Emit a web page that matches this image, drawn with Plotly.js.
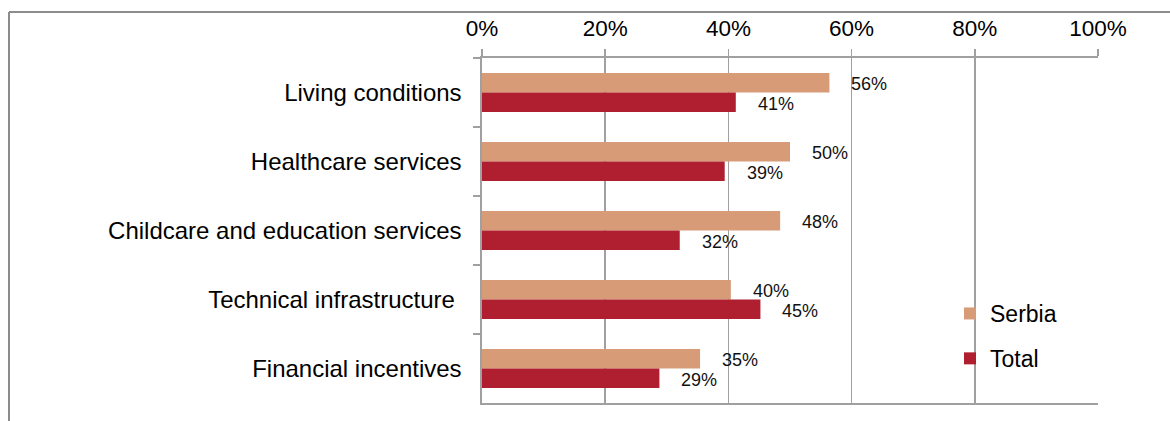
<!DOCTYPE html>
<html>
<head>
<meta charset="utf-8">
<script src="https://cdn.plot.ly/plotly-3.0.1.min.js"></script>
<style>
  html, body { margin: 0; padding: 0; background: #fff; }
  #chart { width: 1170px; height: 421px; }
</style>
</head>
<body>
<div id="chart"></div>
<script>
// ---- data ----
const categories = [
  "Living conditions",
  "Healthcare services",
  "Childcare and education services",
  "Technical infrastructure ",
  "Financial incentives"
];
const serbiaValues = [0.564, 0.50, 0.484, 0.404, 0.354];
const totalValues  = [0.412, 0.394, 0.321, 0.452, 0.288];
const xTickValues = [0, 0.2, 0.4, 0.6, 0.8, 1.0];
const xTickLabels = ["0%", "20%", "40%", "60%", "80%", "100%"];
const seriesNames = ["Serbia", "Total"];

// ---- styles ----
const FONT = "Liberation Sans, Arial, sans-serif";
const serbiaColor = "#D89B78";
const totalColor = "#B01F2F";
const gridColor = "#a0a0a0";

const fmtPct = v => Math.round(v * 100) + "%";

const traces = [
  {
    type: "bar", orientation: "h", name: seriesNames[0],
    y: categories, x: serbiaValues,
    marker: { color: serbiaColor },
    legendgroup: "a", hoverinfo: "skip"
  },
  {
    type: "bar", orientation: "h", name: seriesNames[1],
    y: categories, x: totalValues,
    marker: { color: totalColor },
    legendgroup: "b", hoverinfo: "skip"
  }
];

const annotations = [];
categories.forEach((c, i) => {
  annotations.push({
    x: serbiaValues[i], y: c, xref: "x", yref: "y",
    text: fmtPct(serbiaValues[i]), showarrow: false,
    xanchor: "left", yanchor: "middle", xshift: 20, yshift: 9,
    font: { family: FONT, size: 18, color: "#111" }
  });
  annotations.push({
    x: totalValues[i], y: c, xref: "x", yref: "y",
    text: fmtPct(totalValues[i]), showarrow: false,
    xanchor: "left", yanchor: "middle", xshift: 20, yshift: -11,
    font: { family: FONT, size: 18, color: "#111" }
  });
});

const L = 482, R = 72, T = 58, B = 18;
const plotW = 1170 - L - R, plotH = 421 - T - B;
const px2x = px => (px - L) / plotW;
const py2y = py => (421 - B - py) / plotH;

const layout = {
  width: 1170, height: 421,
  margin: { l: L, r: R, t: T, b: B, pad: 0 },
  paper_bgcolor: "#fff", plot_bgcolor: "#fff",
  font: { family: FONT, color: "#000" },
  barmode: "group",
  bargap: 0.435,
  bargroupgap: 0,
  showlegend: true,
  legend: {
    x: px2x(950), y: py2y(292), xanchor: "left", yanchor: "top",
    font: { family: FONT, size: 23, color: "#000" },
    traceorder: "grouped", tracegroupgap: 12,
    bgcolor: "rgba(0,0,0,0)", itemwidth: 30
  },
  xaxis: {
    side: "top", range: [0, 1],
    tickvals: xTickValues, ticktext: xTickLabels,
    showgrid: true, gridcolor: gridColor, gridwidth: 1.6,
    zeroline: false,
    showline: true, linecolor: gridColor, linewidth: 1.6, mirror: true,
    ticks: "outside", ticklen: 7, tickcolor: gridColor, tickwidth: 1.6,
    ticklabelstandoff: 4,
    tickfont: { family: FONT, size: 22.5, color: "#000" },
    fixedrange: true
  },
  yaxis: {
    autorange: "reversed", type: "category",
    showgrid: false, zeroline: false,
    showline: true, linecolor: gridColor, linewidth: 1.6,
    ticks: "outside", ticklen: 7, tickcolor: gridColor, tickwidth: 1.6,
    tickson: "boundaries",
    ticklabelstandoff: 14,
    tickfont: { family: FONT, size: 24, color: "#000" },
    fixedrange: true
  },
  annotations: annotations,
  shapes: [
    { type: "line", xref: "paper", yref: "paper",
      x0: px2x(9), x1: px2x(1175), y0: py2y(12), y1: py2y(12),
      line: { color: "#8c8c8c", width: 2 } },
    { type: "line", xref: "paper", yref: "paper",
      x0: px2x(9), x1: px2x(9), y0: py2y(12), y1: py2y(430),
      line: { color: "#8c8c8c", width: 2 } }
  ]
};

Plotly.newPlot("chart", traces, layout, { staticPlot: true, displayModeBar: false });
</script>
</body>
</html>
